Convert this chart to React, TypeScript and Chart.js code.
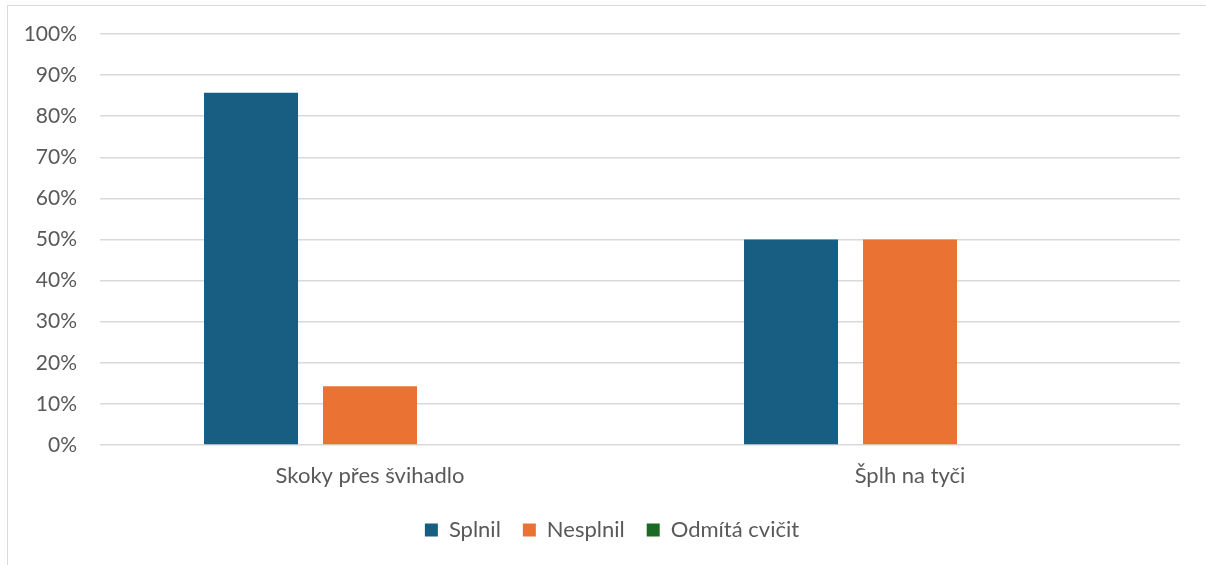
import React, { useEffect, useRef } from "react";
import { Chart, registerables } from "chart.js";

Chart.register(...registerables);

const categories = ["Skoky přes švihadlo", "Šplh na tyči"];
const splnil = [85.7, 50];
const nesplnil = [14.3, 50];
const odmita = [0, 0];
const seriesNames = ["Splnil", "Nesplnil", "Odmítá cvičit"];
const colors = ["#175E82", "#EA7334", "#1C6B25"];

const FONT = "Lato, 'Noto Sans', sans-serif";

const shiftLegend = {
  id: "shiftLegend",
  afterLayout(chart: any) {
    const lg = chart.legend;
    if (lg) {
      lg.left += 18;
      lg.right += 18;
    }
  },
};

export default function App() {
  const ref = useRef<HTMLCanvasElement | null>(null);
  useEffect(() => {
    if (!ref.current) return;
    const chart = new Chart(ref.current, {
      type: "bar",
      data: {
        labels: categories,
        datasets: [splnil, nesplnil, odmita].map((d, i) => ({
          label: seriesNames[i],
          data: d,
          backgroundColor: colors[i],
          borderWidth: 0,
          categoryPercentage: 0.661,
          barPercentage: 0.79,
        })),
      },
      plugins: [shiftLegend],
      options: {
        responsive: false,
        animation: false,
        layout: { padding: { top: 28, right: 26, left: 0, bottom: 14 } },
        plugins: {
          tooltip: { enabled: false },
          legend: {
            position: "bottom",
            labels: {
              boxWidth: 13,
              boxHeight: 13,
              padding: 22,
              color: "#595959",
              font: { family: FONT, size: 22 },
            },
          },
        },
        scales: {
          x: {
            afterFit: (s: any) => {
              s.height = 52;
            },
            grid: { display: false },
            border: { display: false },
            ticks: { color: "#595959", font: { family: FONT, size: 22 }, padding: 10 },
          },
          y: {
            min: 0,
            max: 100,
            afterFit: (s: any) => {
              s.width = 92;
              s.paddingTop = 0;
              s.paddingBottom = 0;
            },
            grid: { color: "#D9D9D9", lineWidth: 1.5, drawTicks: false },
            border: { display: false },
            ticks: {
              stepSize: 10,
              padding: 23,
              color: "#595959",
              font: { family: FONT, size: 21 },
              callback: (v: any) => v + "%",
            },
          },
        },
      },
    });
    return () => chart.destroy();
  }, []);
  return (
    <div
      style={{
        position: "absolute",
        left: 7,
        top: 5,
        width: 1220,
        height: 580,
        border: "1px solid #D9D9D9",
        background: "#fff",
      }}
    >
      <canvas ref={ref} width={1198} height={559} style={{ display: "block" }} />
    </div>
  );
}
